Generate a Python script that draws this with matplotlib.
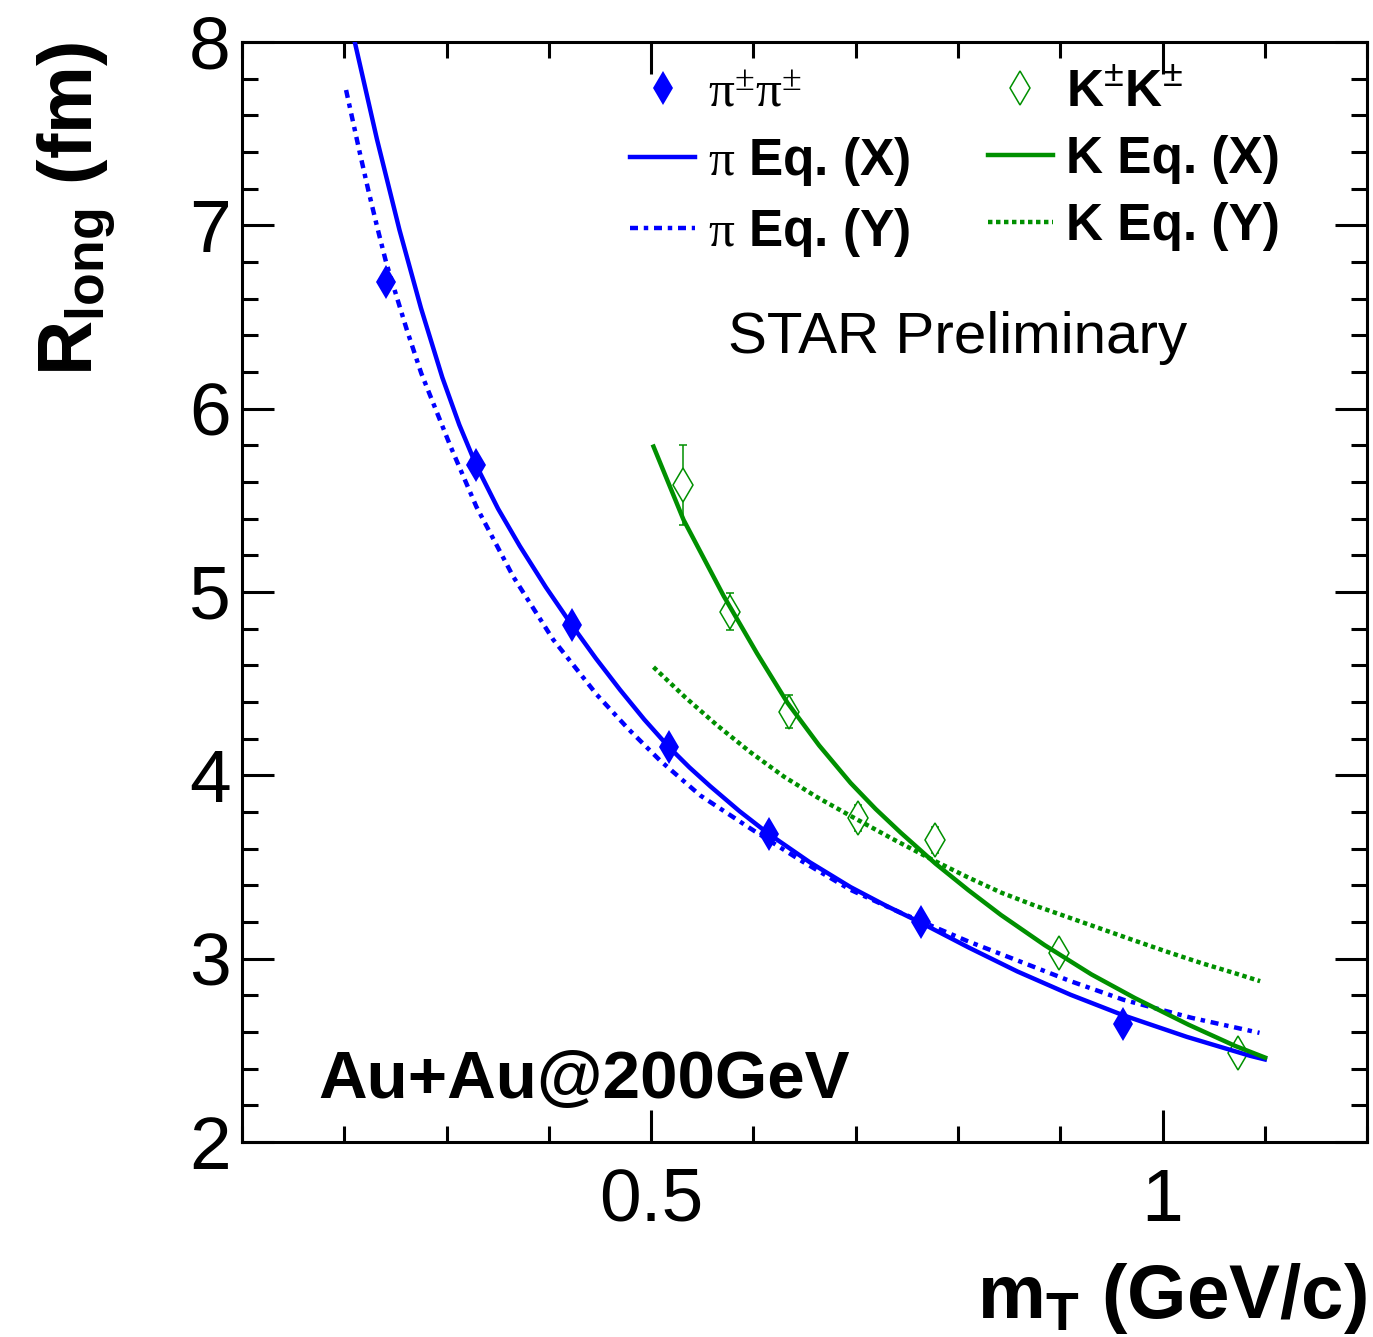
import matplotlib
matplotlib.use("Agg")
import matplotlib.pyplot as plt
from matplotlib.ticker import MultipleLocator
from matplotlib.lines import Line2D

plt.rcParams["font.family"] = ["Liberation Sans", "DejaVu Sans"]
plt.rcParams["mathtext.fontset"] = "custom"
plt.rcParams["mathtext.rm"] = "Liberation Sans"
plt.rcParams["mathtext.bf"] = "Liberation Sans:bold"
plt.rcParams["mathtext.it"] = "Liberation Sans:italic"
plt.rcParams["mathtext.sf"] = "Liberation Serif"

# measured points
pion_mt = [0.241, 0.329, 0.4223, 0.517, 0.615, 0.764, 0.9614]
pion_r = [6.69, 5.69, 4.82, 4.156, 3.68, 3.20, 2.644]

kaon_mt = [0.531, 0.5775, 0.6346, 0.7027, 0.7777, 0.8987, 1.0735]
kaon_r = [5.584, 4.893, 4.347, 3.766, 3.647, 3.029, 2.484]
kaon_err = [0.22, 0.10, 0.09, 0.07, 0.07, 0.06, 0.06]

# fit curves
pi_x_mt = [0.2098, 0.2319, 0.2539, 0.2749, 0.2958, 0.3124, 0.329, 0.3503, 0.3716,
           0.397, 0.4223, 0.446, 0.4696, 0.4933, 0.517, 0.5374, 0.5578, 0.5864,
           0.615, 0.655, 0.695, 0.7295, 0.764, 0.811, 0.858, 0.91, 0.962, 1.0238,
           1.0855, 1.10]
pi_x_r = [8.01, 7.469, 6.975, 6.549, 6.17, 5.912, 5.69, 5.454, 5.25,
          5.026, 4.82, 4.637, 4.466, 4.304, 4.156, 4.043, 3.94, 3.804,
          3.68, 3.526, 3.39, 3.289, 3.195, 3.059, 2.93, 2.803, 2.69, 2.573,
          2.47, 2.45]

pi_y_mt = [0.2017, 0.2147, 0.2235, 0.232, 0.2409, 0.2611, 0.2752, 0.3039, 0.3291,
           0.3651, 0.4042, 0.4468, 0.4778, 0.5088, 0.548, 0.597, 0.646, 0.695,
           0.744, 0.8095, 0.858, 0.91, 0.962, 1.0284, 1.0948]
pi_y_r = [7.738, 7.406, 7.19, 6.993, 6.797, 6.43, 6.193, 5.793, 5.465,
          5.084, 4.74, 4.44, 4.252, 4.08, 3.89, 3.71, 3.536, 3.375,
          3.25, 3.095, 2.99, 2.877, 2.775, 2.677, 2.595]

k_x_mt = [0.5023, 0.5317, 0.5709, 0.6036, 0.6333, 0.6642, 0.695, 0.7195, 0.744,
          0.778, 0.81, 0.842, 0.8846, 0.9304, 0.9729, 1.0252, 1.0709, 1.1003]
k_x_r = [5.793, 5.393, 4.978, 4.664, 4.395, 4.163, 3.958, 3.816, 3.687,
         3.518, 3.374, 3.238, 3.074, 2.914, 2.785, 2.64, 2.524, 2.46]

k_y_mt = [0.5023, 0.5334, 0.5644, 0.597, 0.6297, 0.6624, 0.6951, 0.736, 0.7768,
          0.8095, 0.8422, 0.8748, 0.9075, 0.9402, 0.9728, 1.0056, 1.0383, 1.0709,
          1.0954]
k_y_r = [4.59, 4.425, 4.273, 4.126, 3.993, 3.88, 3.778, 3.653, 3.534,
         3.444, 3.36, 3.29, 3.226, 3.162, 3.098, 3.035, 2.975, 2.92,
         2.877]

blue = "#0000ff"
green = "#009000"

fig = plt.figure(figsize=(13.73, 13.37), dpi=100)
ax = fig.add_axes([0.1763, 0.1459, 0.8194, 0.8227])

pi_dash = (0, (1.8, 1.3, 1.0, 1.3))
k_dot = (0, (1.0, 0.8))

ax.plot(pi_x_mt, pi_x_r, color=blue, lw=3.2, zorder=3)
ax.plot(pi_y_mt, pi_y_r, color=blue, lw=3.2, ls=pi_dash, zorder=3)
ax.plot(k_x_mt, k_x_r, color=green, lw=3.2, zorder=3)
ax.plot(k_y_mt, k_y_r, color=green, lw=3.2, ls=k_dot, zorder=3)

ax.errorbar(kaon_mt, kaon_r, yerr=kaon_err, fmt="d", color=green, ms=17,
            mfc="white", mec=green, mew=1.1, elinewidth=1.1, capsize=2.8,
            capthick=1.1, zorder=2)
ax.plot(pion_mt, pion_r, "d", color=blue, ms=17.5, mew=0, zorder=4)

ax.set_xlim(0.1, 1.2)
ax.set_ylim(2, 8)
ax.set_xticks([0.5, 1.0], ["0.5", "1"])
ax.xaxis.set_minor_locator(MultipleLocator(0.1))
ax.yaxis.set_major_locator(MultipleLocator(1))
ax.yaxis.set_minor_locator(MultipleLocator(0.2))
ax.tick_params(which="both", direction="in", top=True, right=True, width=2.2)
ax.tick_params(which="major", length=23, labelsize=54)
ax.tick_params(which="minor", length=11.5)
ax.tick_params(axis="x", which="major", pad=18)
ax.tick_params(axis="y", which="major", pad=8)
for s in ax.spines.values():
    s.set_linewidth(2.2)

ax.set_xlabel(r"m$_{\mathbf{T}}$ (GeV/c)", fontsize=55, fontweight="bold", loc="right")
ax.xaxis.set_label_coords(1.0, -0.108)
ax.set_ylabel(r"R$_{\mathbf{long}}$ (fm)", fontsize=55, fontweight="bold", loc="top")
ax.yaxis.set_label_coords(-0.111, 1.0)

ax.text(0.6356, 0.731, "STAR Preliminary", transform=ax.transAxes,
        fontsize=42, ha="center", va="center")
ax.text(0.0676, 0.04, "Au+Au@200GeV", transform=ax.transAxes,
        fontsize=48.5, fontweight="bold", ha="left", va="baseline")

handles = [
    Line2D([], [], ls="none", marker="d", ms=17.5, color=blue, mew=0),
    Line2D([], [], color=blue, lw=3.2),
    Line2D([], [], color=blue, lw=3.2, ls=pi_dash),
    Line2D([], [], ls="none", marker="d", ms=17, mfc="none", mec=green, mew=1.1),
    Line2D([], [], color=green, lw=3.2),
    Line2D([], [], color=green, lw=3.2, ls=k_dot),
]
labels = [
    r"$\mathsf{\pi^{\pm}\pi^{\pm}}$",
    r"$\mathsf{\pi}$ Eq. (X)",
    r"$\mathsf{\pi}$ Eq. (Y)",
    r"$\mathbf{K}^{\pm}\mathbf{K}^{\pm}$",
    r"K Eq. (X)",
    r"K Eq. (Y)",
]
ax.legend(handles, labels, ncol=2, loc="upper left", bbox_to_anchor=(0.345, 0.976),
          frameon=False, borderpad=0, borderaxespad=0, handlelength=1.27,
          handletextpad=0.25, columnspacing=1.5, labelspacing=0.35,
          prop={"family": "Liberation Sans", "weight": "bold", "size": 37})

fig.savefig("out.png", dpi=100, facecolor="white")
